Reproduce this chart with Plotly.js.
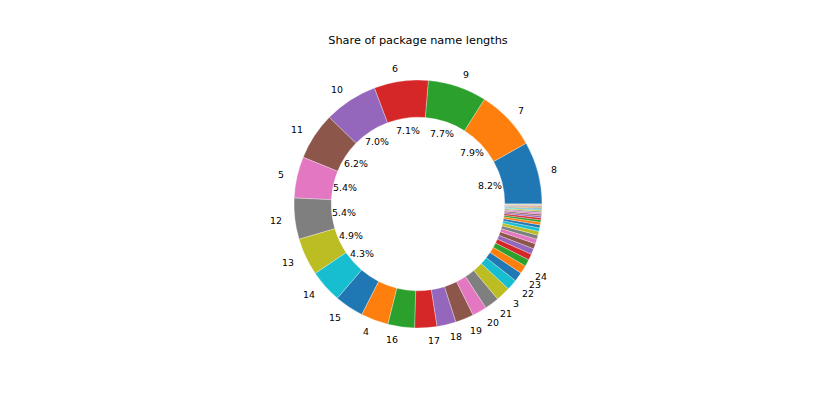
<!DOCTYPE html>
<html>
<head>
<meta charset="utf-8">
<script src="https://cdn.plot.ly/plotly-3.0.1.min.js"></script>
<style>
  html, body { margin: 0; padding: 0; background: #fff; }
  #chart { width: 816px; height: 408px; }
</style>
</head>
<body>
<div id="chart"></div>
<script>
// package name length -> share of packages (%), sorted by size
const lengths = ['8', '7', '9', '6', '10', '11', '5', '12', '13', '14', '15', '4', '16', '17', '18', '19',
  '20', '21', '3', '22', '23', '24', '25', '26', '27', '28', '29', '30', '31', '32', '33', '2', '34', '35',
  '36', '37', '38', '39', '40', '41', '42', '43', '44', '45', '46', '47', '48', '49', '50']
const shares = [8.2, 7.9, 7.7, 7.1, 7.0, 6.2, 5.4, 5.4, 4.9, 4.3, 3.8, 3.6, 3.5, 2.9, 2.5, 2.4,
  1.9, 1.9, 1.9, 1.4, 1.2, 1.1, 0.9, 0.8, 0.75, 0.7, 0.6, 0.55, 0.5, 0.45, 0.4, 0.35, 0.3, 0.28,
  0.25, 0.22, 0.2, 0.18, 0.15, 0.13, 0.11, 0.1, 0.09, 0.08, 0.07, 0.06, 0.05, 0.05, 0.04, 0.04]

const tab10 = ['#1f77b4', '#ff7f0e', '#2ca02c', '#d62728', '#9467bd', '#8c564b', '#e377c2', '#7f7f7f', '#bcbd22', '#17becf']

const W = 816
const H = 408
// pie geometry in pixels
const cx = 418
const cy = 204
const R = 124

const total = shares.reduce((a, b) => a + b, 0)
const colors = shares.map((v, i) => tab10[i % tab10.length])

// labels and percentages placed like matplotlib (labeldistance 1.1, pctdistance 0.6)
const annotations = []
let cum = 0
shares.forEach((v, i) => {
  const pct = v / total * 100
  const theta = (cum + v / 2) / total * 2 * Math.PI
  cum += v
  const c = Math.cos(theta)
  const s = Math.sin(theta)
  if (v >= 1.0) {
    const lx = cx + 1.1 * R * c
    const ly = cy - 1.1 * R * s
    annotations.push({
      x: lx / W,
      y: 1 - ly / H,
      xref: 'paper',
      yref: 'paper',
      text: lengths[i],
      showarrow: false,
      xanchor: lx > cx ? 'left' : 'right',
      yanchor: 'middle',
      borderpad: 0,
      font: { family: 'DejaVu Sans', size: 9.4, color: '#000' }
    })
  }
  if (pct > 4) {
    const px = cx + 0.6 * R * c
    const py = cy - 0.6 * R * s
    annotations.push({
      x: px / W,
      y: 1 - py / H,
      xref: 'paper',
      yref: 'paper',
      text: pct.toFixed(1) + '%',
      showarrow: false,
      xanchor: 'center',
      yanchor: 'middle',
      borderpad: 0,
      font: { family: 'DejaVu Sans', size: 9.4, color: '#000' }
    })
  }
})

const data = [{
  type: 'pie',
  values: shares,
  labels: lengths,
  sort: false,
  direction: 'counterclockwise',
  // first slice starts at 3 o'clock and runs counterclockwise
  rotation: 90 - 360 * shares[0] / total,
  hole: 0.7,
  textinfo: 'none',
  textposition: 'none',
  marker: {
    colors: colors,
    line: { color: 'rgba(255,255,255,0.6)', width: 0.5 }
  },
  domain: {
    x: [(cx - R) / W, (cx + R) / W],
    y: [1 - (cy + R) / H, 1 - (cy - R) / H]
  },
  showlegend: false,
  hoverinfo: 'label+percent'
}]

const layout = {
  width: W,
  height: H,
  margin: { l: 0, r: 0, t: 0, b: 0 },
  paper_bgcolor: '#fff',
  showlegend: false,
  title: {
    text: 'Share of package name lengths',
    x: cx / W,
    xanchor: 'center',
    y: 1 - 40 / H,
    yanchor: 'middle',
    font: { family: 'DejaVu Sans', size: 11.3, color: '#000' }
  },
  annotations: annotations
}

Plotly.newPlot('chart', data, layout, { displayModeBar: false, staticPlot: true })
</script>
</body>
</html>
